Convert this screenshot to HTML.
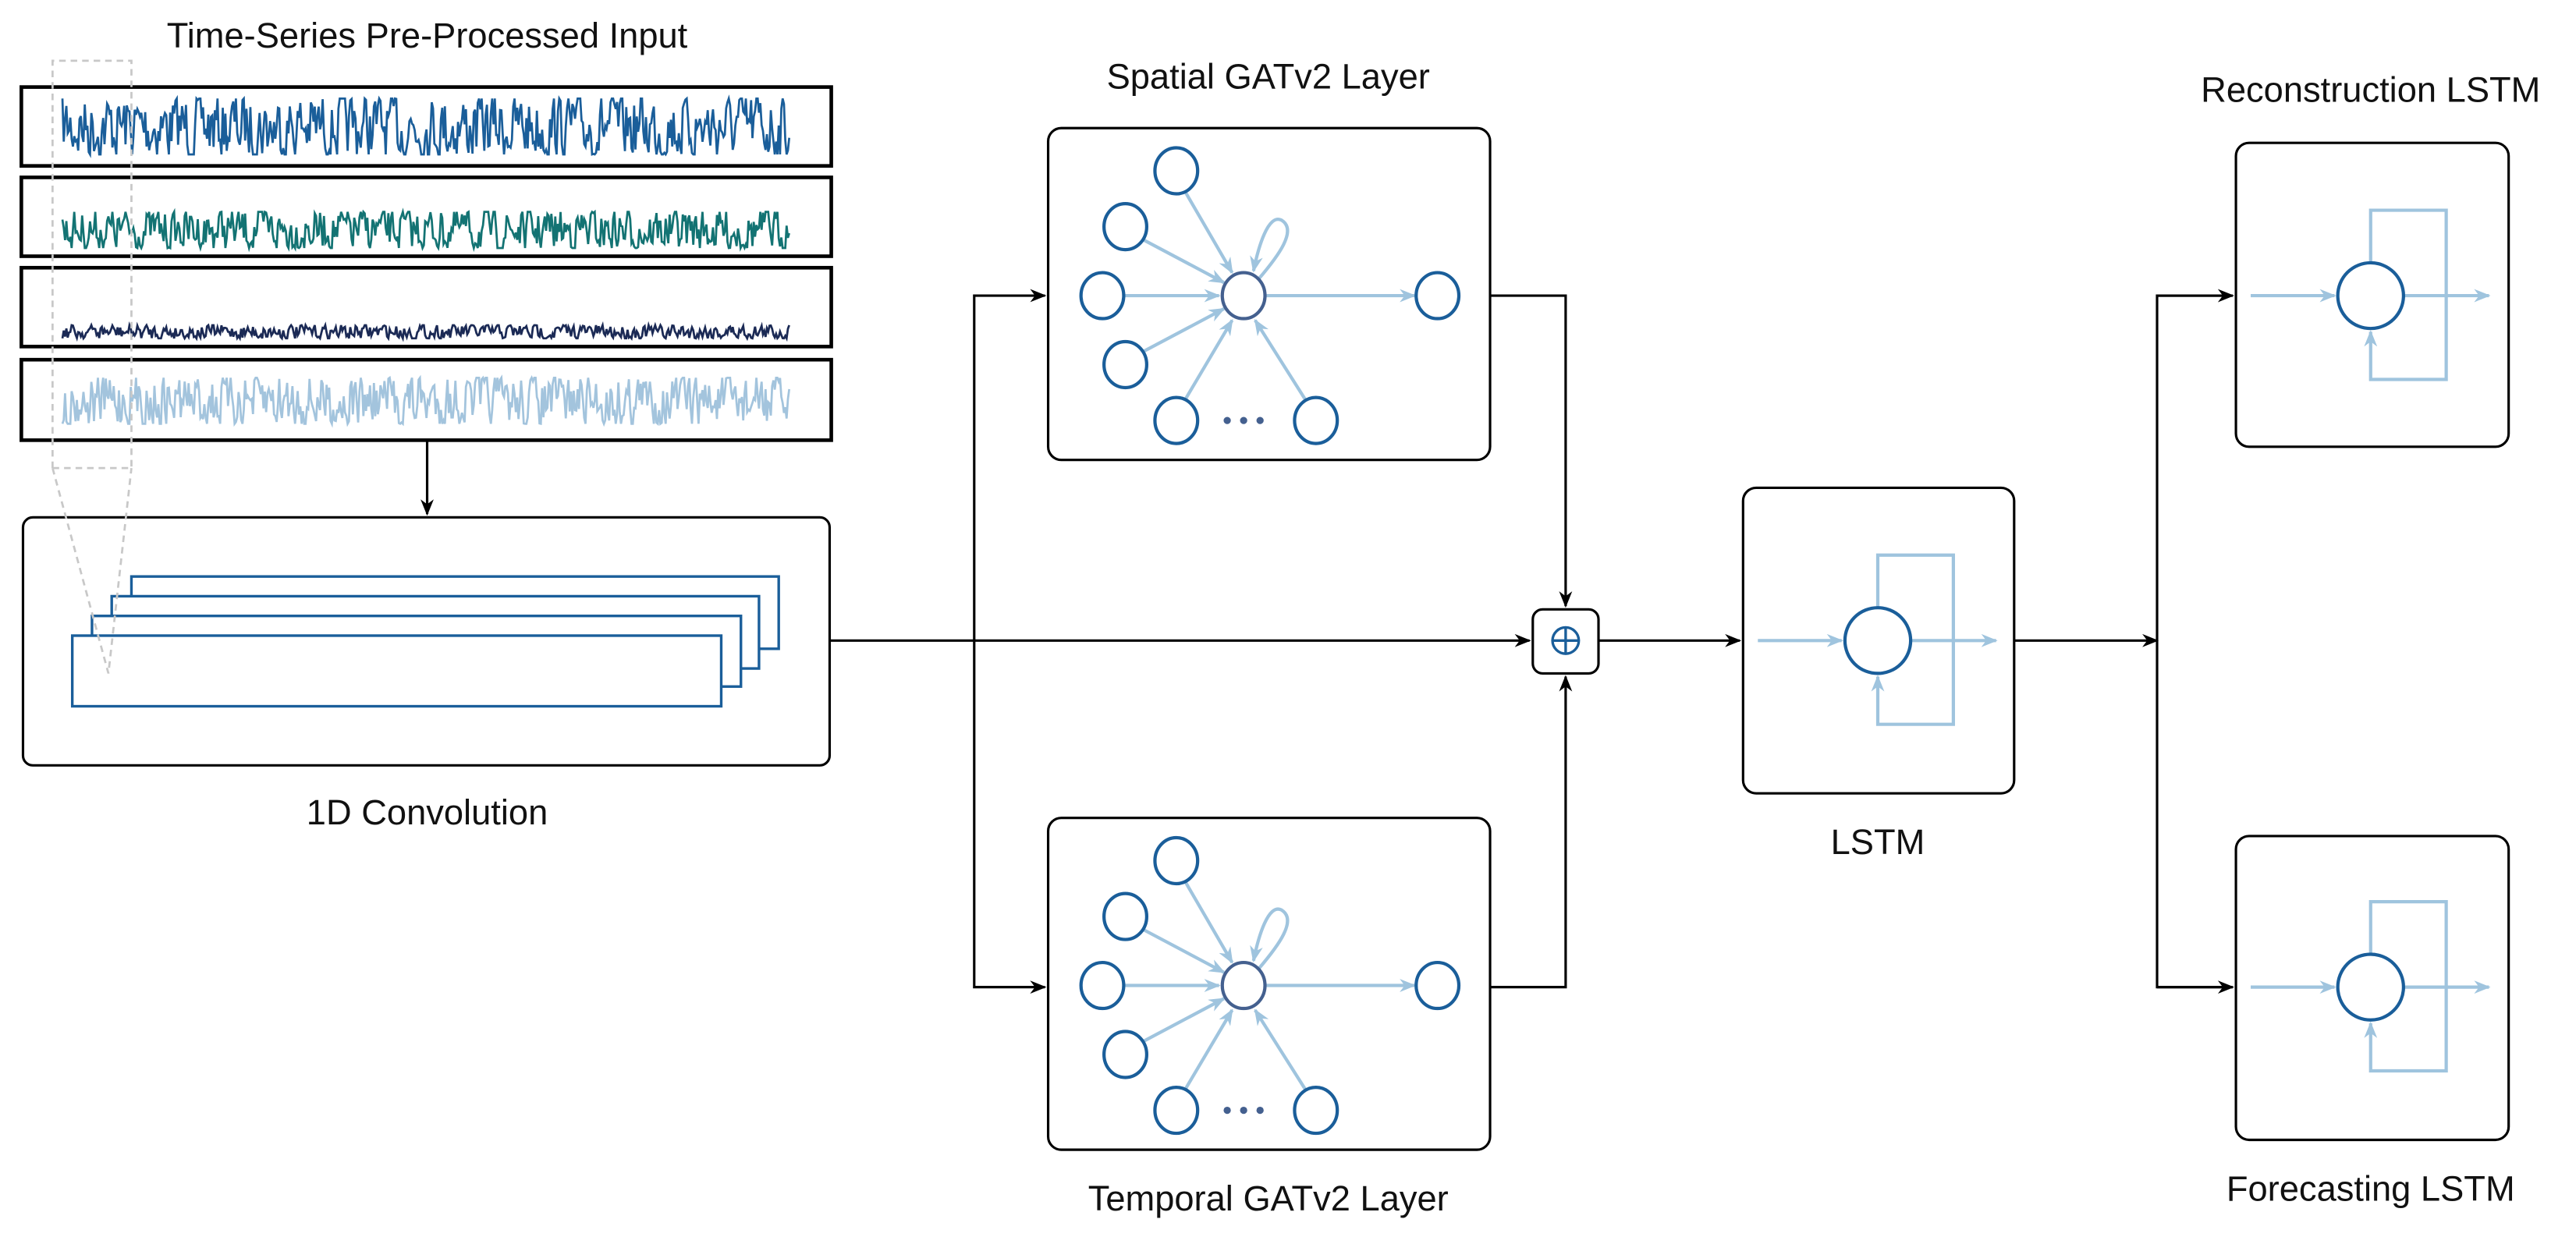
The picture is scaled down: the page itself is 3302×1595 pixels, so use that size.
<!DOCTYPE html>
<html><head><meta charset="utf-8"><style>
html,body{margin:0;padding:0;background:#fff;}
svg{display:block;}
text{font-family:"Liberation Sans",sans-serif;font-size:21.5px;fill:#111;text-anchor:middle;}
</style></head><body>
<svg id="s" width="3302" height="1595" viewBox="0 0 1568 757.4" preserveAspectRatio="none" xmlns="http://www.w3.org/2000/svg">
<defs>
<marker id="ab" markerWidth="10" markerHeight="8" refX="9" refY="4" orient="auto" markerUnits="userSpaceOnUse"><path d="M0,0 L10,4 L0,8 L3,4 z" fill="#000"/></marker>
<marker id="al" markerWidth="10" markerHeight="8" refX="9" refY="4" orient="auto" markerUnits="userSpaceOnUse"><path d="M0,0 L10,4 L0,8 L3,4 z" fill="#9fc4de"/></marker>
<g id="graph">
 <g stroke="#9fc4de" stroke-width="2" fill="none" marker-end="url(#al)">
  <line x1="684" y1="180" x2="742" y2="180"/>
  <line x1="696" y1="146" x2="745" y2="172"/>
  <line x1="721" y1="116" x2="750" y2="166"/>
  <line x1="696" y1="214" x2="745" y2="188"/>
  <line x1="721" y1="244" x2="750" y2="195"/>
  <line x1="795" y1="244" x2="764" y2="195"/>
  <line x1="770" y1="180" x2="861" y2="180"/>
  <path d="M766,170 C778,156 790,140 780,134 C772,130 766,150 763,165"/>
 </g>
 <g fill="#fff" stroke="#1a5e9a" stroke-width="2">
  <ellipse cx="671" cy="180" rx="13" ry="14"/>
  <ellipse cx="685" cy="138" rx="13" ry="14"/>
  <ellipse cx="716" cy="104" rx="13" ry="14"/>
  <ellipse cx="685" cy="222" rx="13" ry="14"/>
  <ellipse cx="716" cy="256" rx="13" ry="14"/>
  <ellipse cx="801" cy="256" rx="13" ry="14"/>
  <ellipse cx="875" cy="180" rx="13" ry="14"/>
  <ellipse cx="757" cy="180" rx="13" ry="14" stroke="#44608f"/>
 </g>
 <g fill="#44608f"><circle cx="747" cy="256" r="2.2"/><circle cx="757" cy="256" r="2.2"/><circle cx="767" cy="256" r="2.2"/></g>
</g>
<g id="lstm">
 <g stroke="#9fc4de" stroke-width="2" fill="none">
  <polyline points="1143,370 1143,338 1189,338 1189,441 1143,441 1143,412" marker-end="url(#al)"/>
  <line x1="1070" y1="390" x2="1121" y2="390" marker-end="url(#al)"/>
  <line x1="1163" y1="390" x2="1215" y2="390" marker-end="url(#al)"/>
 </g>
 <circle cx="1143" cy="390" r="20" fill="#fff" stroke="#1a5e9a" stroke-width="2"/>
</g>
</defs>

<text x="260" y="29">Time-Series Pre-Processed Input</text>
<text x="772" y="54">Spatial GATv2 Layer</text>
<text x="772" y="737">Temporal GATv2 Layer</text>
<text x="260" y="502">1D Convolution</text>
<text x="1143" y="520">LSTM</text>
<text x="1443" y="62">Reconstruction LSTM</text>
<text x="1443" y="731">Forecasting LSTM</text>

<g fill="none" stroke="#000" stroke-width="2.2">
 <rect x="13" y="53" width="493" height="48"/>
 <rect x="13" y="108" width="493" height="48"/>
 <rect x="13" y="163" width="493" height="48"/>
 <rect x="13" y="219" width="493" height="49"/>
</g>
<g id="series" fill="none" stroke-width="1.3"></g>

<g fill="none" stroke="#000" stroke-width="1.5">
 <line x1="260" y1="268" x2="260" y2="313" marker-end="url(#ab)"/>
 <rect x="14" y="315" width="491" height="151" rx="6"/>
 <rect x="638" y="78" width="269" height="202" rx="8"/>
 <rect x="638" y="498" width="269" height="202" rx="8"/>
 <rect x="1061" y="297" width="165" height="186" rx="8"/>
 <rect x="1361" y="87" width="166" height="185" rx="8"/>
 <rect x="1361" y="509" width="166" height="185" rx="8"/>
 <rect x="933" y="371" width="40" height="39" rx="6"/>
 <line x1="505" y1="390" x2="931" y2="390" marker-end="url(#ab)"/>
 <polyline points="593,390 593,180 636,180" marker-end="url(#ab)"/>
 <polyline points="593,390 593,601 636,601" marker-end="url(#ab)"/>
 <polyline points="907,180 953,180 953,369" marker-end="url(#ab)"/>
 <polyline points="907,601 953,601 953,412" marker-end="url(#ab)"/>
 <line x1="973" y1="390" x2="1059" y2="390" marker-end="url(#ab)"/>
 <line x1="1226" y1="390" x2="1313" y2="390" marker-end="url(#ab)"/>
 <polyline points="1359,180 1313,180 1313,601 1359,601" />
 <line x1="1313" y1="180" x2="1359" y2="180" marker-end="url(#ab)"/>
 <line x1="1313" y1="601" x2="1359" y2="601" marker-end="url(#ab)"/>
</g>
<g stroke="#1a5e9a" stroke-width="1.6" fill="none">
 <circle cx="953" cy="390" r="8"/><line x1="945" y1="390" x2="961" y2="390"/><line x1="953" y1="382" x2="953" y2="398"/>
</g>
<g fill="#fff" stroke="#1a5e9a" stroke-width="1.6">
 <rect x="80" y="351" width="394" height="44"/>
 <rect x="68" y="363" width="394" height="44"/>
 <rect x="56" y="375" width="395" height="43"/>
 <rect x="44" y="387" width="395" height="43"/>
</g>
<g fill="none" stroke="#c8c8c8" stroke-width="1.3" stroke-dasharray="4,3">
 <polyline points="32,285 32,37 80,37 80,285"/>
 <polyline points="32,285 66,410 80,285"/>
 <line x1="32" y1="285" x2="80" y2="285"/>
</g>

<use href="#graph"/>
<use href="#graph" transform="translate(0,420)"/>
<use href="#lstm"/>
<use href="#lstm" transform="translate(300,-210)"/>
<use href="#lstm" transform="translate(300,211)"/>
</svg>
<script>
(function(){
var seed=7;function r(){seed=(seed*16807)%2147483647;return seed/2147483647;}
var cfg=[[77,17,"#1a5e9a"],[140,11,"#137373"],[202,4,"#1b2a55"],[244,14,"#a3c4dd"]];
var g=document.getElementById("series");var ns="http://www.w3.org/2000/svg";
cfg.forEach(function(c){var pts=[],v=0;for(var x=38;x<=481;x+=0.8){v=v*0.35+(r()*2-1)*1.1;var y=c[0]+Math.max(-1,Math.min(1,v))*c[1];pts.push(x.toFixed(1)+","+y.toFixed(1));}
var p=document.createElementNS(ns,"polyline");p.setAttribute("points",pts.join(" "));p.setAttribute("stroke",c[2]);g.appendChild(p);});
})();
</script>
</body></html>
